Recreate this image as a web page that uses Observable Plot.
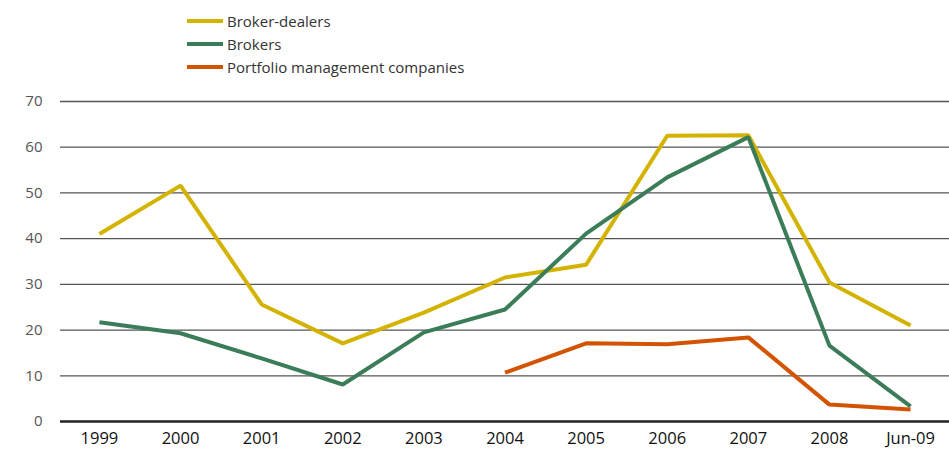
<!DOCTYPE html>
<html>
<head>
<meta charset="utf-8">
<script src="https://cdn.jsdelivr.net/npm/d3@7"></script>
<script src="https://cdn.jsdelivr.net/npm/@observablehq/plot@0.6"></script>
<style>
  body { margin: 0; background: #fff; font-family: "Open Sans", sans-serif; }
  #wrap { position: relative; width: 949px; height: 459px; }
  #legend { position: absolute; left: 187px; top: 9px; }
  .item { display: flex; align-items: center; height: 23px; font-size: 15px; color: #333; }
  .swatch { width: 36px; height: 4px; margin-right: 4px; }
  #chart { position: absolute; left: 0; top: 80px; }
</style>
</head>
<body>
<div id="wrap">
  <div id="legend"></div>
  <div id="chart"></div>
</div>
<script>
const categories = ["1999","2000","2001","2002","2003","2004","2005","2006","2007","2008","Jun-09"];
const seriesNames = ["Broker-dealers","Brokers","Portfolio management companies"];
const seriesColors = ["#d4b300","#3b7d59","#d35400"];
const brokerDealers = [41, 51.6, 25.6, 17.1, 23.8, 31.5, 34.3, 62.5, 62.6, 30.4, 21];
const brokers = [21.7, 19.3, 13.8, 8.1, 19.5, 24.5, 41.1, 53.4, 62.2, 16.6, 3.3];
const portfolio = [null, null, null, null, null, 10.7, 17.1, 16.9, 18.4, 3.7, 2.6];
const yTicks = [0, 10, 20, 30, 40, 50, 60, 70];

const allSeries = [brokerDealers, brokers, portfolio];
const data = [];
allSeries.forEach((vals, si) => {
  vals.forEach((v, i) => data.push({series: seriesNames[si], cat: categories[i], value: v}));
});

const legend = document.getElementById("legend");
seriesNames.forEach((n, i) => {
  const d = document.createElement("div");
  d.className = "item";
  d.innerHTML = `<span class="swatch" style="background:${seriesColors[i]}"></span><span>${n}</span>`;
  legend.appendChild(d);
});

const chart = Plot.plot({
  width: 949,
  height: 379,
  marginLeft: 60,
  marginRight: 0,
  marginTop: 21,
  marginBottom: 38,
  style: { fontFamily: "Open Sans, sans-serif", background: "transparent" },
  x: { type: "point", domain: categories, padding: 0.48, round: false, label: null },
  y: { domain: [0, 70], label: null },
  color: { domain: seriesNames, range: seriesColors },
  marks: [
    Plot.ruleY(yTicks.filter(t => t > 0), { stroke: "#555", strokeWidth: 1.3 }),
    Plot.axisY(yTicks, { tickSize: 0, tickPadding: 18, fontSize: 15, fill: "#555", label: null }),
    Plot.axisX({ tickSize: 0, tickPadding: 11, fontSize: 16.5, fill: "#111", label: null }),
    Plot.line(data, {
      x: "cat", y: "value", z: "series", stroke: "series",
      strokeWidth: 4, strokeLinejoin: "miter", strokeLinecap: "butt"
    }),
    Plot.ruleY([0], { stroke: "#222", strokeWidth: 2.5 })
  ]
});
document.getElementById("chart").appendChild(chart);
</script>
</body>
</html>
